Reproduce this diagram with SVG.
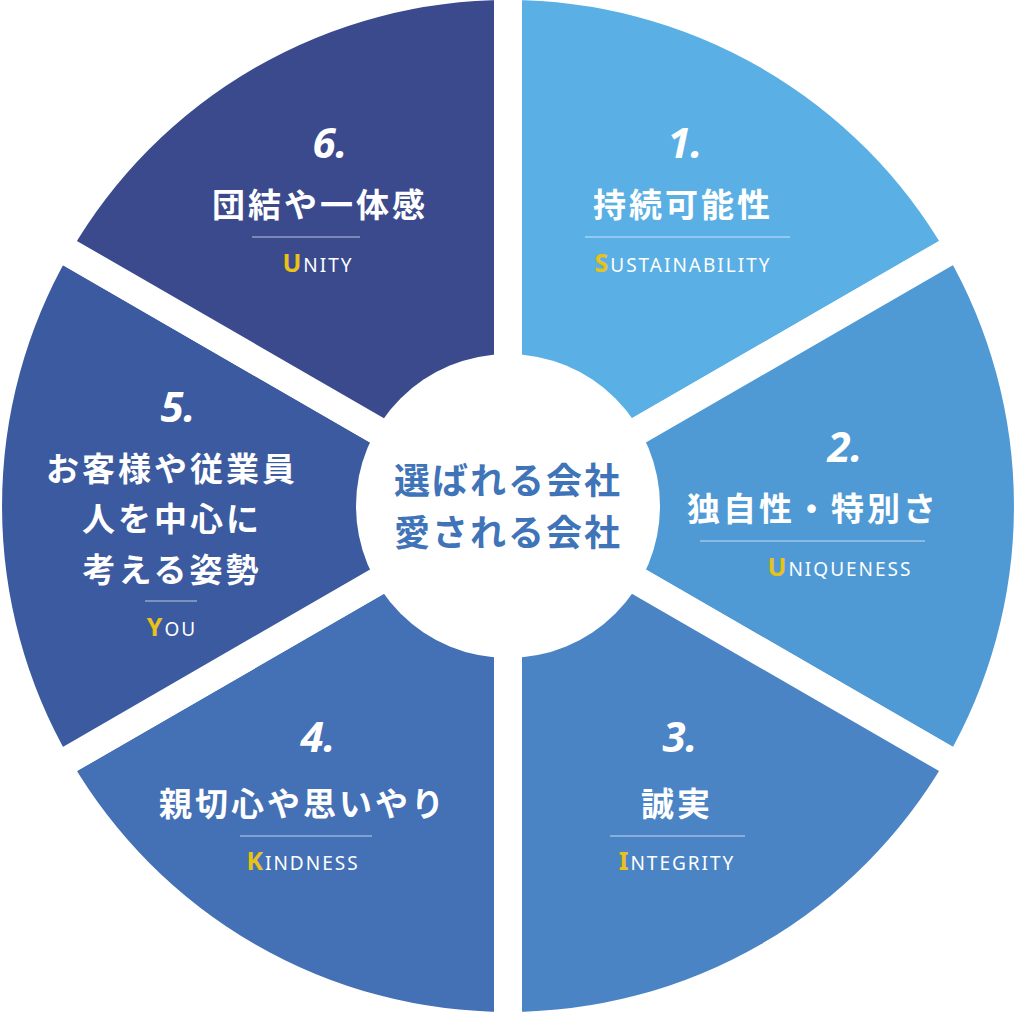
<svg xmlns="http://www.w3.org/2000/svg" width="1016" height="1012" viewBox="0 0 1016 1012">
<style>
.sec{stroke:#fff;stroke-width:28;stroke-linejoin:miter}
.num{font-family:"Noto Sans",sans-serif;font-style:italic;font-weight:bold;font-size:42px;fill:#fff;text-anchor:middle}
.jp{font-family:"Noto Sans CJK JP",sans-serif;font-weight:bold;font-size:33px;fill:#fff;text-anchor:middle;letter-spacing:3px}
.en{font-family:"Noto Sans",sans-serif;font-size:19px;fill:#fff;text-anchor:middle;letter-spacing:2px}
.cap{fill:#e8c21a;font-size:25px;font-weight:bold}
.ln{stroke:#fff;stroke-opacity:0.45;stroke-width:1.5}
.ctr{font-family:"Noto Sans CJK JP",sans-serif;font-weight:bold;font-size:36px;fill:#3f74b8;text-anchor:middle;letter-spacing:2px}
</style>
<rect width="1016" height="1012" fill="#fff"/>
<g id="s1"><path class="sec" fill="#5ab0e5" d="M508 506 L508 -14 A520 520 0 0 1 958.3 246 Z"/>
<text class="num" x="685" y="158">1.</text><text class="jp" x="683" y="217">持続可能性</text>
<line class="ln" x1="585" y1="237" x2="790" y2="237"/><text class="en" x="683" y="272"><tspan class="cap">S</tspan>USTAINABILITY</text></g>
<g id="s2"><path class="sec" fill="#4f9ad5" d="M508 506 L958.3 246 A520 520 0 0 1 958.3 766 Z"/>
<text class="num" x="845" y="462">2.</text><text class="jp" x="813" y="521">独自性・特別さ</text>
<line class="ln" x1="700" y1="541" x2="925" y2="541"/><text class="en" x="840" y="576"><tspan class="cap">U</tspan>NIQUENESS</text></g>
<g id="s3"><path class="sec" fill="#4a84c5" d="M508 506 L958.3 766 A520 520 0 0 1 508 1026 Z"/>
<text class="num" x="680" y="752">3.</text><text class="jp" x="677" y="816">誠実</text>
<line class="ln" x1="610" y1="836" x2="745" y2="836"/><text class="en" x="677" y="870"><tspan class="cap">I</tspan>NTEGRITY</text></g>
<g id="s4"><path class="sec" fill="#4470b5" d="M508 506 L508 1026 A520 520 0 0 1 57.7 766 Z"/>
<text class="num" x="318" y="752">4.</text><text class="jp" x="303" y="816">親切心や思いやり</text>
<line class="ln" x1="240" y1="836" x2="372" y2="836"/><text class="en" x="303" y="870"><tspan class="cap">K</tspan>INDNESS</text></g>
<g id="s5"><path class="sec" fill="#3c5aa0" d="M508 506 L57.7 766 A520 520 0 0 1 57.7 246 Z"/>
<text class="num" x="178" y="422">5.</text>
<text class="jp" x="172" y="481">お客様や従業員</text><text class="jp" x="172" y="531">人を中心に</text><text class="jp" x="172" y="582">考える姿勢</text>
<line class="ln" x1="145" y1="601" x2="197" y2="601"/><text class="en" x="172" y="636"><tspan class="cap">Y</tspan>OU</text></g>
<g id="s6"><path class="sec" fill="#3a4a8d" d="M508 506 L57.7 246 A520 520 0 0 1 508 -14 Z"/>
<text class="num" x="330" y="158">6.</text><text class="jp" x="320" y="217">団結や一体感</text>
<line class="ln" x1="252" y1="237" x2="360" y2="237"/><text class="en" x="318" y="272"><tspan class="cap">U</tspan>NITY</text></g>
<g id="center"><circle cx="508" cy="506" r="152" fill="#fff"/>
<text class="ctr" x="508" y="494">選ばれる会社</text><text class="ctr" x="508" y="546">愛される会社</text></g>
</svg>
